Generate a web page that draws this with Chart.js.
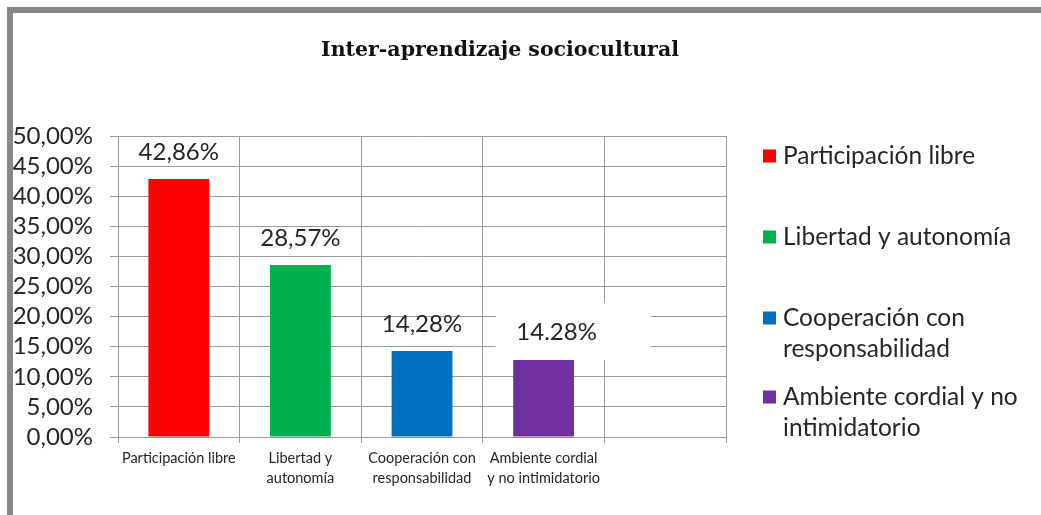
<!DOCTYPE html>
<html>
<head>
<meta charset="utf-8">
<script src="https://cdn.jsdelivr.net/npm/chart.js@4"></script>
<style>
  html, body { margin: 0; padding: 0; background: #fff; }
  #frame { position: absolute; left: 7px; top: 7px; width: 1034px; height: 508px;
           border-top: 6px solid #878787; border-left: 6px solid #878787; box-sizing: border-box; }
  #wrap { position: absolute; left: 0; top: 0; width: 1041px; height: 515px; }
</style>
</head>
<body>
<div id="frame"></div>
<div id="wrap"><canvas id="c" width="1041" height="515"></canvas></div>
<script>
const chartTitle = "Inter-aprendizaje sociocultural";
const categories = [
  ["Participación libre"],
  ["Libertad y", "autonomía"],
  ["Cooperación con", "responsabilidad"],
  ["Ambiente cordial", "y no intimidatorio"],
  ""
];
const values = [42.86, 28.57, 14.28, 12.8, null];
const valueLabels = ["42,86%", "28,57%", "14,28%", "14.28%"];
const barColors = ["#FF0000", "#00B050", "#0070C0", "#7030A0", "#000000"];
const legendLabels = [
  ["Participación libre"],
  ["Libertad y autonomía"],
  ["Cooperación con", "responsabilidad"],
  ["Ambiente cordial y no", "intimidatorio"]
];
const yTickLabels = ["0,00%","5,00%","10,00%","15,00%","20,00%","25,00%","30,00%","35,00%","40,00%","45,00%","50,00%"];

const TEXT = "#262626";
const GRID = "#9a9a9a";

const decor = {
  id: "decor",
  afterDatasetsDraw(chart) {
    const ctx = chart.ctx;
    ctx.save();
    const meta = chart.getDatasetMeta(0);
    ctx.font = '24px Lato';
    ctx.textAlign = "center";
    ctx.textBaseline = "middle";
    meta.data.forEach((bar, i) => {
      if (values[i] == null || valueLabels[i] == null) return;
      let dx = 0, dy = -27;
      if (i === 3) {
        dx = 13; dy = -28;
        ctx.fillStyle = "#ffffff";
        ctx.fillRect(bar.x - 48, bar.y - 57, 155, 57);
      }
      ctx.fillStyle = TEXT;
      ctx.fillText(valueLabels[i], bar.x + dx, bar.y + dy);
    });
    ctx.restore();
  },
  afterDraw(chart) {
    const ctx = chart.ctx;
    ctx.save();
    ctx.fillStyle = "#111";
    ctx.font = 'bold 20.5px "DejaVu Serif"';
    ctx.textAlign = "center";
    ctx.textBaseline = "middle";
    ctx.fillText(chartTitle, 500, 51);
    const starts = [156, 237, 318, 397];
    const lineH = 31;
    ctx.font = '24.5px Lato';
    ctx.textAlign = "left";
    legendLabels.forEach((lines, i) => {
      const y0 = starts[i];
      ctx.fillStyle = barColors[i];
      ctx.fillRect(763, y0 - 6.5, 13, 13);
      ctx.fillStyle = TEXT;
      lines.forEach((ln, j) => ctx.fillText(ln, 783, y0 + j * lineH));
    });
    ctx.restore();
  }
};

new Chart(document.getElementById("c"), {
  type: "bar",
  data: {
    labels: categories,
    datasets: [{
      data: values,
      backgroundColor: barColors,
      borderWidth: 0,
      barPercentage: 0.5,
      categoryPercentage: 1.0
    }]
  },
  options: {
    responsive: false,
    animation: false,
    events: [],
    layout: { padding: { top: 136, right: 315, left: 0, bottom: 0 } },
    plugins: { legend: { display: false }, title: { display: false }, tooltip: { enabled: false } },
    scales: {
      x: {
        grid: { color: GRID, offset: true, tickLength: 6, lineWidth: 1 },
        border: { color: GRID },
        ticks: { color: TEXT, font: { family: "Lato", size: 14.5, lineHeight: 1.35 }, padding: 6, maxRotation: 0, autoSkip: false },
        afterFit(s) { s.height = 78; }
      },
      y: {
        min: 0, max: 50,
        grid: { color: GRID, tickLength: 8, lineWidth: 1 },
        border: { color: GRID },
        ticks: { stepSize: 5, autoSkip: false, color: TEXT, font: { family: "Lato", size: 24 }, padding: 17,
                 callback: (v, i) => yTickLabels[i] },
        afterFit(s) { s.width = 118; }
      }
    }
  },
  plugins: [decor]
});
</script>
</body>
</html>
